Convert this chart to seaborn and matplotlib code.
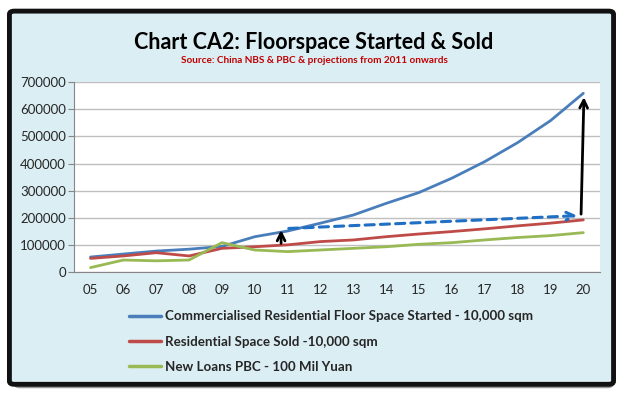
import matplotlib
matplotlib.use("Agg")
import matplotlib.pyplot as plt
from matplotlib.patches import FancyBboxPatch
import seaborn as sns
import pandas as pd

# chart data
years = ["05", "06", "07", "08", "09", "10", "11", "12", "13", "14", "15", "16", "17", "18", "19", "20"]
floor_started = [55000, 66000, 77000, 84000, 94000, 130000, 151000, 180000, 210000, 253000,
                 293000, 346000, 407000, 477000, 558000, 659000]
space_sold = [50000, 59000, 71000, 59000, 87000, 93000, 100000, 112000, 118000, 130000,
              140000, 149000, 159000, 170000, 180000, 192000]
new_loans = [16000, 44000, 41000, 44000, 108000, 81000, 75000, 81000, 87000, 93000,
             102000, 108000, 118000, 127000, 134000, 145000]
series_names = ["Commercialised Residential Floor Space Started - 10,000 sqm",
                "Residential Space Sold -10,000 sqm",
                "New Loans PBC - 100 Mil Yuan"]
colors = ["#4A7EBB", "#BE4B48", "#98B954"]
yticks = [0, 100000, 200000, 300000, 400000, 500000, 600000, 700000]

# annotation arrows (x in category index units)
arrow_up_2011 = ((5.8, 95000), (5.8, 165000))
arrow_dash = ((5.95, 160000), (14.9, 208000))
arrow_up_2020 = ((14.93, 203000), (15.02, 655000))

df = pd.DataFrame({
    "x": list(range(len(years))) * 3,
    "value": floor_started + space_sold + new_loans,
    "series": [s for s in series_names for _ in years],
})

sns.set_style("white")
plt.rcParams["font.family"] = ["Lato", "DejaVu Sans"]

fig = plt.figure(figsize=(6.28, 3.97), dpi=100)
fig.patch.set_facecolor("white")

# framed background with shadow
shadow = FancyBboxPatch((0.022, 0.022), 0.955, 0.935, boxstyle="round,pad=0,rounding_size=0.01",
                        transform=fig.transFigure, facecolor="#9a9a9a", edgecolor="none", zorder=-3)
frame = FancyBboxPatch((0.015, 0.032), 0.962, 0.94, boxstyle="round,pad=0,rounding_size=0.008",
                       transform=fig.transFigure, facecolor="#DBEEF4", edgecolor="#111111",
                       linewidth=3.5, zorder=-2)
fig.patches.extend([shadow, frame])

ax = fig.add_axes([0.118, 0.315, 0.837, 0.478])
ax.set_facecolor("white")

sns.lineplot(data=df, x="x", y="value", hue="series", palette=colors, linewidth=2.0,
             ax=ax, legend=False)

ax.set_xlim(-0.5, len(years) - 0.5)
ax.set_ylim(0, 700000)
ax.set_yticks(yticks)
ax.set_yticklabels([str(v) for v in yticks], fontsize=9.5)
ax.set_xticks(range(len(years)))
ax.set_xticklabels(years, fontsize=9.5)
ax.set_xticks([i - 0.5 for i in range(len(years) + 1)], minor=True)
ax.tick_params(axis="x", which="major", length=0, pad=9)
ax.tick_params(axis="x", which="minor", length=4, color="#868686", direction="out")
ax.tick_params(axis="y", length=4, color="#868686", direction="out", pad=2, left=True)
ax.yaxis.grid(True, color="#BFBFBF", linewidth=1.0)
ax.set_axisbelow(True)
for side in ["top", "right"]:
    ax.spines[side].set_visible(False)
for side in ["left", "bottom"]:
    ax.spines[side].set_color("#868686")
ax.set_xlabel("")
ax.set_ylabel("")

# arrows
ax.annotate("", xy=arrow_up_2011[1], xytext=arrow_up_2011[0],
            arrowprops=dict(arrowstyle="->", color="black", lw=2.0, mutation_scale=14))
ax.annotate("", xy=arrow_dash[1], xytext=arrow_dash[0],
            arrowprops=dict(arrowstyle="->", color="#1F6FC5", lw=2.2, linestyle=(0, (3, 2)),
                            mutation_scale=14))
ax.annotate("", xy=arrow_up_2020[1], xytext=arrow_up_2020[0],
            arrowprops=dict(arrowstyle="->", color="black", lw=2.0, mutation_scale=14))

# titles
fig.text(0.5, 0.893, "Chart CA2: Floorspace Started & Sold", ha="center", va="center",
         fontsize=15.5, fontweight="bold", color="black")
fig.text(0.5, 0.847, "Source: China NBS & PBC & projections from 2011 onwards", ha="center",
         va="center", fontsize=7.2, fontweight="bold", color="#C00000")

# legend below the plot
handles = [plt.Line2D([], [], color=c, lw=2.5) for c in colors]
fig.legend(handles, series_names, loc="upper left", bbox_to_anchor=(0.205, 0.218),
           frameon=False, prop={"weight": "bold", "size": 9.6},
           handlelength=2.4, handletextpad=0.3, labelspacing=1.0, borderpad=0, borderaxespad=0)

fig.savefig("out.png", dpi=100, facecolor=fig.get_facecolor())
